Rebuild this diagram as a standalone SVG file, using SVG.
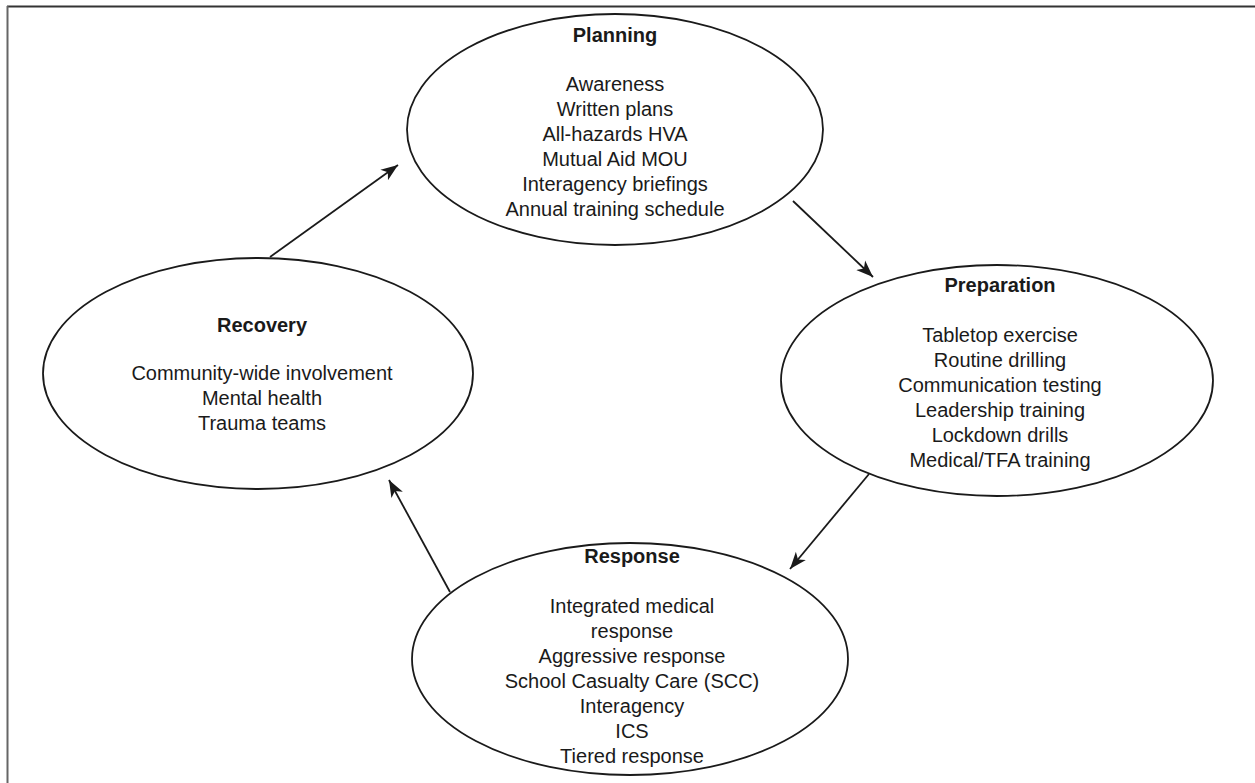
<svg xmlns="http://www.w3.org/2000/svg" width="1255" height="783" viewBox="0 0 1255 783">
<defs>
<style>
.node ellipse{fill:#fff;stroke:#1a1a1a;stroke-width:1.8}
text{font-family:"Liberation Sans",Arial,sans-serif;font-size:20px;fill:#1a1a1a;text-anchor:middle}
.h{font-weight:bold}
.conn line{stroke:#1a1a1a;stroke-width:1.8;marker-end:url(#ah)}
</style>
<marker id="ah" markerUnits="userSpaceOnUse" markerWidth="18" markerHeight="14" refX="17" refY="7" orient="auto">
<path d="M0,0.5 L17,7 L0,13.5 L4.5,7 z" fill="#1a1a1a"/>
</marker>
</defs>
<rect width="1255" height="783" fill="#fff"/>
<g id="frame">
<line x1="7" y1="6.5" x2="1255" y2="6.5" stroke="#333" stroke-width="2"/>
<line x1="7.5" y1="6" x2="7.5" y2="783" stroke="#666" stroke-width="2"/>
</g>
<g class="conn" id="connectors">
<line x1="270" y1="257" x2="398" y2="165"/>
<line x1="793" y1="201" x2="873" y2="277"/>
<line x1="869" y1="474" x2="790" y2="569"/>
<line x1="450" y1="592" x2="389" y2="480"/>
</g>
<g class="node" id="planning">
<ellipse cx="615" cy="129.5" rx="208" ry="115.5"/>
<text class="h" x="615" y="42">Planning</text>
<text x="615" y="91">Awareness</text>
<text x="615" y="116">Written plans</text>
<text x="615" y="141">All-hazards HVA</text>
<text x="615" y="166">Mutual Aid MOU</text>
<text x="615" y="191">Interagency briefings</text>
<text x="615" y="216">Annual training schedule</text>
</g>
<g class="node" id="preparation">
<ellipse cx="997" cy="380.5" rx="216" ry="115.5"/>
<text class="h" x="1000" y="292">Preparation</text>
<text x="1000" y="342">Tabletop exercise</text>
<text x="1000" y="367">Routine drilling</text>
<text x="1000" y="392">Communication testing</text>
<text x="1000" y="417">Leadership training</text>
<text x="1000" y="442">Lockdown drills</text>
<text x="1000" y="467">Medical/TFA training</text>
</g>
<g class="node" id="recovery">
<ellipse cx="258" cy="373.5" rx="215" ry="115.5"/>
<text class="h" x="262" y="332">Recovery</text>
<text x="262" y="380">Community-wide involvement</text>
<text x="262" y="405">Mental health</text>
<text x="262" y="430">Trauma teams</text>
</g>
<g class="node" id="response">
<ellipse cx="630" cy="659" rx="218" ry="116"/>
<text class="h" x="632" y="563">Response</text>
<text x="632" y="613">Integrated medical</text>
<text x="632" y="638">response</text>
<text x="632" y="663">Aggressive response</text>
<text x="632" y="688">School Casualty Care (SCC)</text>
<text x="632" y="713">Interagency</text>
<text x="632" y="738">ICS</text>
<text x="632" y="763">Tiered response</text>
</g>
</svg>
